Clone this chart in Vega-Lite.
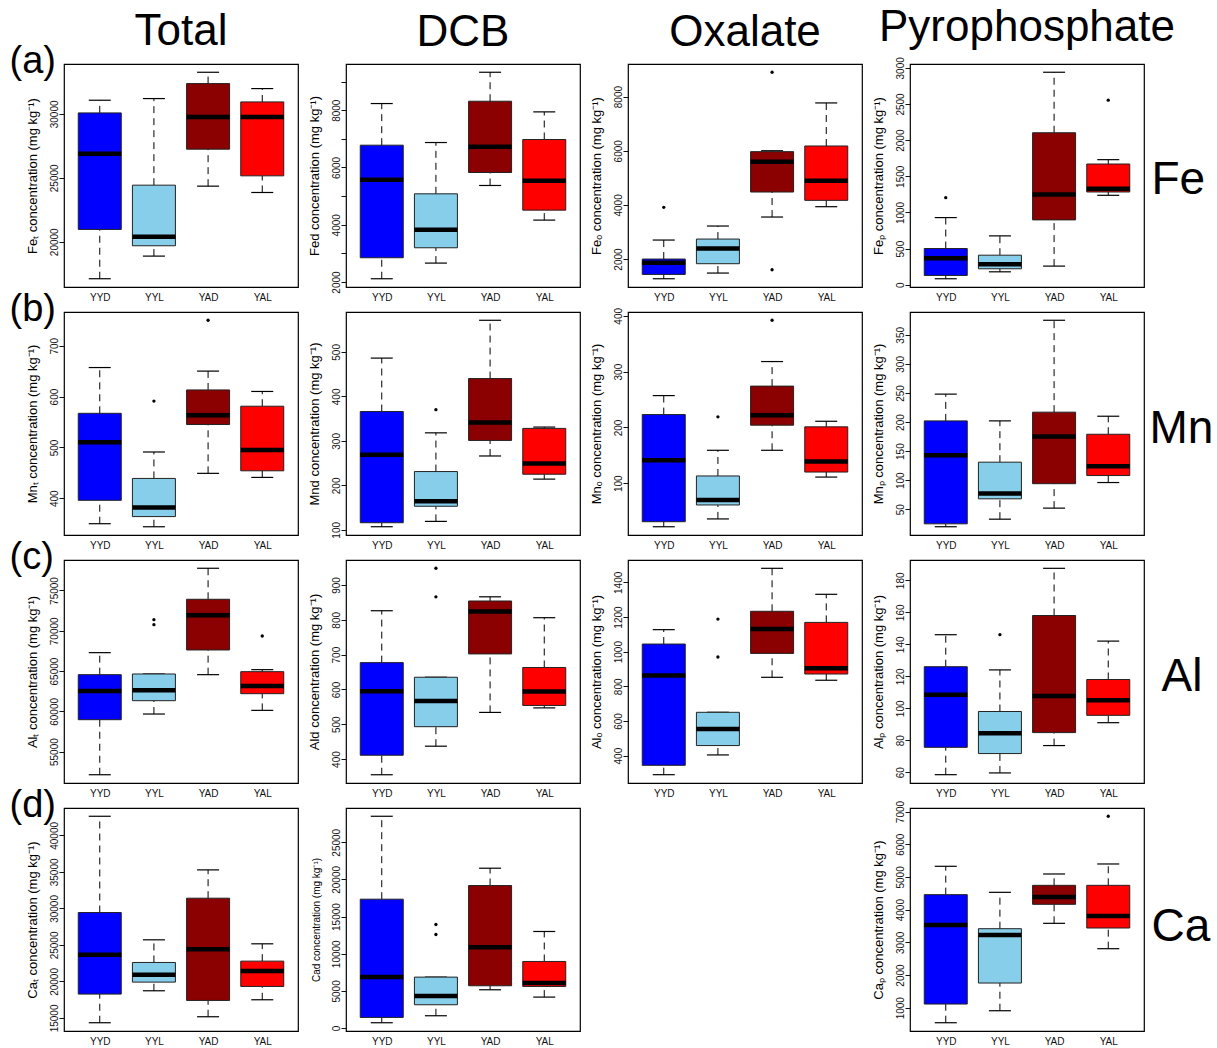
{
"$schema": "https://vega.github.io/schema/vega-lite/v6.json",
"padding": {"left": 8, "top": 5, "right": 5, "bottom": 3},
"background": "white",
"datasets": {
"box": [
{"p":"Fe_t","g":"YYD","lo":17110,"q1":20964,"med":26875,"q3":30078,"hi":31068},
{"p":"Fe_t","g":"YYL","lo":18880,"q1":19688,"med":20391,"q3":24427,"hi":31198},
{"p":"Fe_t","g":"YAD","lo":24349,"q1":27240,"med":29766,"q3":32370,"hi":33255},
{"p":"Fe_t","g":"YAL","lo":23854,"q1":25156,"med":29766,"q3":30937,"hi":31979},
{"p":"Fe_d","g":"YYD","lo":2115,"q1":2848,"med":5569,"q3":6779,"hi":8233},
{"p":"Fe_d","g":"YYL","lo":2662,"q1":3197,"med":3825,"q3":5081,"hi":6872},
{"p":"Fe_d","g":"YAD","lo":5372,"q1":5825,"med":6721,"q3":8314,"hi":9326},
{"p":"Fe_d","g":"YAL","lo":4163,"q1":4511,"med":5535,"q3":6977,"hi":7942},
{"p":"Fe_o","g":"YYD","lo":1273,"q1":1433,"med":1864,"q3":2000,"hi":2702},
{"p":"Fe_o","g":"YYL","lo":1483,"q1":1828,"med":2394,"q3":2739,"hi":3220},
{"p":"Fe_o","g":"YAD","lo":3552,"q1":4476,"med":5597,"q3":5967,"hi":6000},
{"p":"Fe_o","g":"YAL","lo":3934,"q1":4168,"med":4895,"q3":6176,"hi":7766},
{"p":"Fe_p","g":"YYD","lo":83,"q1":129,"med":368,"q3":501,"hi":929},
{"p":"Fe_p","g":"YYL","lo":179,"q1":221,"med":285,"q3":409,"hi":676},
{"p":"Fe_p","g":"YAD","lo":258,"q1":897,"med":1247,"q3":2102,"hi":2939},
{"p":"Fe_p","g":"YAL","lo":1237,"q1":1283,"med":1329,"q3":1670,"hi":1730},
{"p":"Mn_t","g":"YYD","lo":350,"q1":396,"med":510,"q3":567,"hi":657},
{"p":"Mn_t","g":"YYL","lo":344,"q1":364,"med":382,"q3":439,"hi":491},
{"p":"Mn_t","g":"YAD","lo":449,"q1":545,"med":563,"q3":613,"hi":650},
{"p":"Mn_t","g":"YAL","lo":441,"q1":454,"med":495,"q3":581,"hi":610},
{"p":"Mn_d","g":"YYD","lo":107,"q1":116,"med":269,"q3":366,"hi":486},
{"p":"Mn_d","g":"YYL","lo":119,"q1":153,"med":164,"q3":231,"hi":318},
{"p":"Mn_d","g":"YAD","lo":266,"q1":301,"med":341,"q3":440,"hi":571},
{"p":"Mn_d","g":"YAL","lo":214,"q1":225,"med":249,"q3":328,"hi":331},
{"p":"Mn_o","g":"YYD","lo":22,"q1":31,"med":141,"q3":223,"hi":257},
{"p":"Mn_o","g":"YYL","lo":36,"q1":61,"med":70,"q3":113,"hi":159},
{"p":"Mn_o","g":"YAD","lo":159,"q1":204,"med":222,"q3":274,"hi":318},
{"p":"Mn_o","g":"YAL","lo":111,"q1":120,"med":139,"q3":201,"hi":211},
{"p":"Mn_p","g":"YYD","lo":20,"q1":25,"med":143,"q3":202,"hi":248},
{"p":"Mn_p","g":"YYL","lo":33,"q1":68,"med":77,"q3":131,"hi":202},
{"p":"Mn_p","g":"YAD","lo":52,"q1":94,"med":175,"q3":217,"hi":375},
{"p":"Mn_p","g":"YAL","lo":96,"q1":108,"med":124,"q3":179,"hi":210},
{"p":"Al_t","g":"YYD","lo":52134,"q1":58965,"med":62525,"q3":64554,"hi":67286},
{"p":"Al_t","g":"YYL","lo":59669,"q1":61325,"med":62608,"q3":64637,"hi":64637},
{"p":"Al_t","g":"YAD","lo":64554,"q1":67618,"med":71923,"q3":73910,"hi":77760},
{"p":"Al_t","g":"YAL","lo":60124,"q1":62194,"med":63146,"q3":64927,"hi":65175},
{"p":"Al_d","g":"YYD","lo":355,"q1":411,"med":595,"q3":677,"hi":826},
{"p":"Al_d","g":"YYL","lo":437,"q1":493,"med":567,"q3":635,"hi":635},
{"p":"Al_d","g":"YAD","lo":534,"q1":702,"med":824,"q3":854,"hi":866},
{"p":"Al_d","g":"YAL","lo":547,"q1":554,"med":594,"q3":663,"hi":806},
{"p":"Al_o","g":"YYD","lo":290,"q1":344,"med":863,"q3":1044,"hi":1127},
{"p":"Al_o","g":"YYL","lo":404,"q1":458,"med":554,"q3":650,"hi":650},
{"p":"Al_o","g":"YAD","lo":852,"q1":990,"med":1131,"q3":1233,"hi":1481},
{"p":"Al_o","g":"YAL","lo":835,"q1":871,"med":904,"q3":1169,"hi":1331},
{"p":"Al_p","g":"YYD","lo":58.5,"q1":75.6,"med":108.5,"q3":126,"hi":146},
{"p":"Al_p","g":"YYL","lo":59.6,"q1":71.7,"med":84.4,"q3":98,"hi":124},
{"p":"Al_p","g":"YAD","lo":76.7,"q1":84.8,"med":107.7,"q3":158,"hi":187.5},
{"p":"Al_p","g":"YAL","lo":91,"q1":95.6,"med":105,"q3":118,"hi":142},
{"p":"Ca_t","g":"YYD","lo":14346,"q1":18267,"med":23648,"q3":29439,"hi":42618},
{"p":"Ca_t","g":"YYL","lo":18723,"q1":19909,"med":20912,"q3":22600,"hi":25700},
{"p":"Ca_t","g":"YAD","lo":15166,"q1":17401,"med":24423,"q3":31400,"hi":35276},
{"p":"Ca_t","g":"YAL","lo":17492,"q1":19316,"med":21414,"q3":22782,"hi":25153},
{"p":"Ca_d","g":"YYD","lo":717,"q1":1434,"med":6854,"q3":17338,"hi":28493},
{"p":"Ca_d","g":"YYL","lo":1658,"q1":3136,"med":4301,"q3":6854,"hi":6854},
{"p":"Ca_d","g":"YAD","lo":5152,"q1":5690,"med":10886,"q3":19174,"hi":21504},
{"p":"Ca_d","g":"YAL","lo":4166,"q1":5600,"med":6048,"q3":8960,"hi":12992},
{"p":"Ca_p","g":"YYD","lo":541,"q1":1112,"med":3530,"q3":4458,"hi":5325},
{"p":"Ca_p","g":"YYL","lo":908,"q1":1755,"med":3224,"q3":3417,"hi":4529},
{"p":"Ca_p","g":"YAD","lo":3581,"q1":4162,"med":4386,"q3":4743,"hi":5090},
{"p":"Ca_p","g":"YAL","lo":2805,"q1":3438,"med":3805,"q3":4743,"hi":5396}
],
"out": [
{"p":"Fe_o","g":"YYD","out":3910},
{"p":"Fe_o","g":"YAD","out":8899},
{"p":"Fe_o","g":"YAD","out":1606},
{"p":"Fe_p","g":"YYD","out":1205},
{"p":"Fe_p","g":"YAL","out":2553},
{"p":"Mn_t","g":"YYL","out":591},
{"p":"Mn_t","g":"YAD","out":750},
{"p":"Mn_d","g":"YYL","out":370},
{"p":"Mn_o","g":"YYL","out":219},
{"p":"Mn_o","g":"YAD","out":392},
{"p":"Al_t","g":"YYL","out":71385},
{"p":"Al_t","g":"YYL","out":70764},
{"p":"Al_t","g":"YAL","out":69356},
{"p":"Al_d","g":"YYL","out":948},
{"p":"Al_d","g":"YYL","out":866},
{"p":"Al_o","g":"YYL","out":1188},
{"p":"Al_o","g":"YYL","out":969},
{"p":"Al_p","g":"YYL","out":146},
{"p":"Ca_d","g":"YYL","out":13933},
{"p":"Ca_d","g":"YYL","out":12589},
{"p":"Ca_p","g":"YAL","out":6855}
]
},
"data": {"name": "box"},
"config": {
"font": "Liberation Sans",
"view": {"stroke": "#000", "strokeWidth": 1.2},
"axis": {"grid": false, "labelColor": "#111", "titleColor": "#000", "titleFontWeight": "normal", "labelFontSize": 10, "titleFontSize": 13, "tickColor": "#111", "labelFont": "Liberation Sans", "titleFont": "Liberation Sans"},
"axisY": {"labelAngle": -90, "labelAlign": "center", "labelBaseline": "alphabetic", "labelPadding": 2, "tickSize": 5, "domain": false, "labelOverlap": false, "titleAlign": "center", "titleBaseline": "middle"},
"axisX": {"labelAngle": 0, "ticks": false, "tickSize": 0, "domain": false, "labelPadding": 5, "labelFontSize": 10},
"title": {"fontSize": 44, "fontWeight": "normal", "font": "Liberation Sans", "color": "#000", "frame": "group", "anchor": "middle"}
},
"columns": 4,
"spacing": {"row": 25, "column": 48},
"bounds": "flush",
"concat": [
{"width":234,"height":223,"title":{"text":"Total","offset":-12},"transform":[{"filter":"datum.p==='Fe_t'"}],
"encoding":{"x":{"field":"g","type":"nominal","title":null,"scale":{"type":"point","domain":["YYD","YYL","YAD","YAL"],"padding":0.66}}},
"layer":[
{"mark":{"type":"rule","strokeDash":[7,5],"color":"black"},"encoding":{"y":{"field":"q3","type":"quantitative","scale":{"domain":[16464,33901],"nice":false,"zero":false},"axis":{"title":"Feₜ concentration (mg kg⁻¹)","values":[20000,25000,30000],"format":"d","titleAngle":-90,"titleX":-32,"titleY":111.5}},"y2":{"field":"hi"}}},
{"mark":{"type":"rule","strokeDash":[7,5],"color":"black"},"encoding":{"y":{"field":"lo","type":"quantitative","axis":null},"y2":{"field":"q1"}}},
{"mark":{"type":"tick","size":22,"thickness":1.2,"color":"black","opacity":1},"encoding":{"y":{"field":"hi","type":"quantitative","axis":null}}},
{"mark":{"type":"tick","size":22,"thickness":1.2,"color":"black","opacity":1},"encoding":{"y":{"field":"lo","type":"quantitative","axis":null}}},
{"mark":{"type":"bar","size":43,"stroke":"#222","strokeWidth":1},"encoding":{"y":{"field":"q1","type":"quantitative","axis":null},"y2":{"field":"q3"},"fill":{"field":"g","type":"nominal","scale":{"domain":["YYD","YYL","YAD","YAL"],"range":["#0000FF","#87CEEB","#8B0000","#FF0000"]},"legend":null}}},
{"mark":{"type":"tick","size":43,"thickness":4.5,"color":"black","opacity":1},"encoding":{"y":{"field":"med","type":"quantitative","axis":null}}},
{"mark":{"type":"tick","opacity":0},"encoding":{"y":{"field":"med","type":"quantitative","axis":{"orient":"left","title":"(a)","labels":false,"ticks":false,"domain":false,"titleAngle":0.01,"titleAlign":"left","titleBaseline":"middle","titleX":-55,"titleY":-3,"titleFontSize":38}}}}
],
"resolve":{"axis":{"y":"independent"}}},

{"width":234,"height":223,"title":{"text":"DCB","offset":9},"transform":[{"filter":"datum.p==='Fe_d'"}],
"encoding":{"x":{"field":"g","type":"nominal","title":null,"scale":{"type":"point","domain":["YYD","YYL","YAD","YAL"],"padding":0.66}}},
"layer":[
{"mark":{"type":"rule","strokeDash":[7,5],"color":"black"},"encoding":{"y":{"field":"q3","type":"quantitative","scale":{"domain":[1827,9614],"nice":false,"zero":false},"axis":{"title":"Fed concentration (mg kg⁻¹)","values":[2000,3000,4000,5000,6000,7000,8000,9000],"labelExpr":"datum.value % 2000 === 0 ? datum.label : ''","format":"d","titleAngle":-90,"titleX":-32,"titleY":111.5}},"y2":{"field":"hi"}}},
{"mark":{"type":"rule","strokeDash":[7,5],"color":"black"},"encoding":{"y":{"field":"lo","type":"quantitative","axis":null},"y2":{"field":"q1"}}},
{"mark":{"type":"tick","size":22,"thickness":1.2,"color":"black","opacity":1},"encoding":{"y":{"field":"hi","type":"quantitative","axis":null}}},
{"mark":{"type":"tick","size":22,"thickness":1.2,"color":"black","opacity":1},"encoding":{"y":{"field":"lo","type":"quantitative","axis":null}}},
{"mark":{"type":"bar","size":43,"stroke":"#222","strokeWidth":1},"encoding":{"y":{"field":"q1","type":"quantitative","axis":null},"y2":{"field":"q3"},"fill":{"field":"g","type":"nominal","scale":{"domain":["YYD","YYL","YAD","YAL"],"range":["#0000FF","#87CEEB","#8B0000","#FF0000"]},"legend":null}}},
{"mark":{"type":"tick","size":43,"thickness":4.5,"color":"black","opacity":1},"encoding":{"y":{"field":"med","type":"quantitative","axis":null}}}
],
"resolve":{"axis":{"y":"independent"}}},

{"width":234,"height":223,"title":{"text":"Oxalate","offset":9},"transform":[{"filter":"datum.p==='Fe_o'"}],
"encoding":{"x":{"field":"g","type":"nominal","title":null,"scale":{"type":"point","domain":["YYD","YYL","YAD","YAL"],"padding":0.66}}},
"layer":[
{"mark":{"type":"rule","strokeDash":[7,5],"color":"black"},"encoding":{"y":{"field":"q3","type":"quantitative","scale":{"domain":[968,9204],"nice":false,"zero":false},"axis":{"title":"Feₒ concentration (mg kg⁻¹)","values":[2000,4000,6000,8000],"format":"d","titleAngle":-90,"titleX":-32,"titleY":111.5}},"y2":{"field":"hi"}}},
{"mark":{"type":"rule","strokeDash":[7,5],"color":"black"},"encoding":{"y":{"field":"lo","type":"quantitative","axis":null},"y2":{"field":"q1"}}},
{"mark":{"type":"tick","size":22,"thickness":1.2,"color":"black","opacity":1},"encoding":{"y":{"field":"hi","type":"quantitative","axis":null}}},
{"mark":{"type":"tick","size":22,"thickness":1.2,"color":"black","opacity":1},"encoding":{"y":{"field":"lo","type":"quantitative","axis":null}}},
{"mark":{"type":"bar","size":43,"stroke":"#222","strokeWidth":1},"encoding":{"y":{"field":"q1","type":"quantitative","axis":null},"y2":{"field":"q3"},"fill":{"field":"g","type":"nominal","scale":{"domain":["YYD","YYL","YAD","YAL"],"range":["#0000FF","#87CEEB","#8B0000","#FF0000"]},"legend":null}}},
{"mark":{"type":"tick","size":43,"thickness":4.5,"color":"black","opacity":1},"encoding":{"y":{"field":"med","type":"quantitative","axis":null}}},
{"data":{"name":"out"},"transform":[{"filter":"datum.p==='Fe_o'"}],"mark":{"type":"circle","size":11,"color":"black","opacity":1},"encoding":{"y":{"field":"out","type":"quantitative","axis":null}}}
],
"resolve":{"axis":{"y":"independent"}}},

{"width":234,"height":223,"title":{"text":"Pyrophosphate","offset":7},"transform":[{"filter":"datum.p==='Fe_p'"}],
"encoding":{"x":{"field":"g","type":"nominal","title":null,"scale":{"type":"point","domain":["YYD","YYL","YAD","YAL"],"padding":0.66}}},
"layer":[
{"mark":{"type":"rule","strokeDash":[7,5],"color":"black"},"encoding":{"y":{"field":"q3","type":"quantitative","scale":{"domain":[-31,3053],"nice":false,"zero":false},"axis":{"title":"Feₚ concentration (mg kg⁻¹)","values":[0,500,1000,1500,2000,2500,3000],"format":"d","titleAngle":-90,"titleX":-32,"titleY":111.5}},"y2":{"field":"hi"}}},
{"mark":{"type":"rule","strokeDash":[7,5],"color":"black"},"encoding":{"y":{"field":"lo","type":"quantitative","axis":null},"y2":{"field":"q1"}}},
{"mark":{"type":"tick","size":22,"thickness":1.2,"color":"black","opacity":1},"encoding":{"y":{"field":"hi","type":"quantitative","axis":null}}},
{"mark":{"type":"tick","size":22,"thickness":1.2,"color":"black","opacity":1},"encoding":{"y":{"field":"lo","type":"quantitative","axis":null}}},
{"mark":{"type":"bar","size":43,"stroke":"#222","strokeWidth":1},"encoding":{"y":{"field":"q1","type":"quantitative","axis":null},"y2":{"field":"q3"},"fill":{"field":"g","type":"nominal","scale":{"domain":["YYD","YYL","YAD","YAL"],"range":["#0000FF","#87CEEB","#8B0000","#FF0000"]},"legend":null}}},
{"mark":{"type":"tick","size":43,"thickness":4.5,"color":"black","opacity":1},"encoding":{"y":{"field":"med","type":"quantitative","axis":null}}},
{"data":{"name":"out"},"transform":[{"filter":"datum.p==='Fe_p'"}],"mark":{"type":"circle","size":11,"color":"black","opacity":1},"encoding":{"y":{"field":"out","type":"quantitative","axis":null}}},
{"mark":{"type":"tick","opacity":0},"encoding":{"y":{"field":"med","type":"quantitative","axis":{"orient":"right","title":"Fe","labels":false,"ticks":false,"domain":false,"titleAngle":0.01,"titleAlign":"left","titleBaseline":"middle","titleX":7,"titleY":115,"titleFontSize":46}}}}
],
"resolve":{"axis":{"y":"independent"}}},

{"width":234,"height":223,"transform":[{"filter":"datum.p==='Mn_t'"}],
"encoding":{"x":{"field":"g","type":"nominal","title":null,"scale":{"type":"point","domain":["YYD","YYL","YAD","YAL"],"padding":0.66}}},
"layer":[
{"mark":{"type":"rule","strokeDash":[7,5],"color":"black"},"encoding":{"y":{"field":"q3","type":"quantitative","scale":{"domain":[327.8,766.2],"nice":false,"zero":false},"axis":{"title":"Mnₜ concentration (mg kg⁻¹)","values":[400,500,600,700],"format":"d","titleAngle":-90,"titleX":-32,"titleY":111.5}},"y2":{"field":"hi"}}},
{"mark":{"type":"rule","strokeDash":[7,5],"color":"black"},"encoding":{"y":{"field":"lo","type":"quantitative","axis":null},"y2":{"field":"q1"}}},
{"mark":{"type":"tick","size":22,"thickness":1.2,"color":"black","opacity":1},"encoding":{"y":{"field":"hi","type":"quantitative","axis":null}}},
{"mark":{"type":"tick","size":22,"thickness":1.2,"color":"black","opacity":1},"encoding":{"y":{"field":"lo","type":"quantitative","axis":null}}},
{"mark":{"type":"bar","size":43,"stroke":"#222","strokeWidth":1},"encoding":{"y":{"field":"q1","type":"quantitative","axis":null},"y2":{"field":"q3"},"fill":{"field":"g","type":"nominal","scale":{"domain":["YYD","YYL","YAD","YAL"],"range":["#0000FF","#87CEEB","#8B0000","#FF0000"]},"legend":null}}},
{"mark":{"type":"tick","size":43,"thickness":4.5,"color":"black","opacity":1},"encoding":{"y":{"field":"med","type":"quantitative","axis":null}}},
{"data":{"name":"out"},"transform":[{"filter":"datum.p==='Mn_t'"}],"mark":{"type":"circle","size":11,"color":"black","opacity":1},"encoding":{"y":{"field":"out","type":"quantitative","axis":null}}},
{"mark":{"type":"tick","opacity":0},"encoding":{"y":{"field":"med","type":"quantitative","axis":{"orient":"left","title":"(b)","labels":false,"ticks":false,"domain":false,"titleAngle":0.01,"titleAlign":"left","titleBaseline":"middle","titleX":-55,"titleY":-3,"titleFontSize":38}}}}
],
"resolve":{"axis":{"y":"independent"}}},

{"width":234,"height":223,"transform":[{"filter":"datum.p==='Mn_d'"}],
"encoding":{"x":{"field":"g","type":"nominal","title":null,"scale":{"type":"point","domain":["YYD","YYL","YAD","YAL"],"padding":0.66}}},
"layer":[
{"mark":{"type":"rule","strokeDash":[7,5],"color":"black"},"encoding":{"y":{"field":"q3","type":"quantitative","scale":{"domain":[88.4,589.6],"nice":false,"zero":false},"axis":{"title":"Mnd concentration (mg kg⁻¹)","values":[100,200,300,400,500],"format":"d","titleAngle":-90,"titleX":-32,"titleY":111.5}},"y2":{"field":"hi"}}},
{"mark":{"type":"rule","strokeDash":[7,5],"color":"black"},"encoding":{"y":{"field":"lo","type":"quantitative","axis":null},"y2":{"field":"q1"}}},
{"mark":{"type":"tick","size":22,"thickness":1.2,"color":"black","opacity":1},"encoding":{"y":{"field":"hi","type":"quantitative","axis":null}}},
{"mark":{"type":"tick","size":22,"thickness":1.2,"color":"black","opacity":1},"encoding":{"y":{"field":"lo","type":"quantitative","axis":null}}},
{"mark":{"type":"bar","size":43,"stroke":"#222","strokeWidth":1},"encoding":{"y":{"field":"q1","type":"quantitative","axis":null},"y2":{"field":"q3"},"fill":{"field":"g","type":"nominal","scale":{"domain":["YYD","YYL","YAD","YAL"],"range":["#0000FF","#87CEEB","#8B0000","#FF0000"]},"legend":null}}},
{"mark":{"type":"tick","size":43,"thickness":4.5,"color":"black","opacity":1},"encoding":{"y":{"field":"med","type":"quantitative","axis":null}}},
{"data":{"name":"out"},"transform":[{"filter":"datum.p==='Mn_d'"}],"mark":{"type":"circle","size":11,"color":"black","opacity":1},"encoding":{"y":{"field":"out","type":"quantitative","axis":null}}}
],
"resolve":{"axis":{"y":"independent"}}},

{"width":234,"height":223,"transform":[{"filter":"datum.p==='Mn_o'"}],
"encoding":{"x":{"field":"g","type":"nominal","title":null,"scale":{"type":"point","domain":["YYD","YYL","YAD","YAL"],"padding":0.66}}},
"layer":[
{"mark":{"type":"rule","strokeDash":[7,5],"color":"black"},"encoding":{"y":{"field":"q3","type":"quantitative","scale":{"domain":[7.2,406.8],"nice":false,"zero":false},"axis":{"title":"Mnₒ concentration (mg kg⁻¹)","values":[100,200,300,400],"format":"d","titleAngle":-90,"titleX":-32,"titleY":111.5}},"y2":{"field":"hi"}}},
{"mark":{"type":"rule","strokeDash":[7,5],"color":"black"},"encoding":{"y":{"field":"lo","type":"quantitative","axis":null},"y2":{"field":"q1"}}},
{"mark":{"type":"tick","size":22,"thickness":1.2,"color":"black","opacity":1},"encoding":{"y":{"field":"hi","type":"quantitative","axis":null}}},
{"mark":{"type":"tick","size":22,"thickness":1.2,"color":"black","opacity":1},"encoding":{"y":{"field":"lo","type":"quantitative","axis":null}}},
{"mark":{"type":"bar","size":43,"stroke":"#222","strokeWidth":1},"encoding":{"y":{"field":"q1","type":"quantitative","axis":null},"y2":{"field":"q3"},"fill":{"field":"g","type":"nominal","scale":{"domain":["YYD","YYL","YAD","YAL"],"range":["#0000FF","#87CEEB","#8B0000","#FF0000"]},"legend":null}}},
{"mark":{"type":"tick","size":43,"thickness":4.5,"color":"black","opacity":1},"encoding":{"y":{"field":"med","type":"quantitative","axis":null}}},
{"data":{"name":"out"},"transform":[{"filter":"datum.p==='Mn_o'"}],"mark":{"type":"circle","size":11,"color":"black","opacity":1},"encoding":{"y":{"field":"out","type":"quantitative","axis":null}}}
],
"resolve":{"axis":{"y":"independent"}}},

{"width":234,"height":223,"transform":[{"filter":"datum.p==='Mn_p'"}],
"encoding":{"x":{"field":"g","type":"nominal","title":null,"scale":{"type":"point","domain":["YYD","YYL","YAD","YAL"],"padding":0.66}}},
"layer":[
{"mark":{"type":"rule","strokeDash":[7,5],"color":"black"},"encoding":{"y":{"field":"q3","type":"quantitative","scale":{"domain":[5.8,389.2],"nice":false,"zero":false},"axis":{"title":"Mnₚ concentration (mg kg⁻¹)","values":[50,100,150,200,250,300,350],"format":"d","titleAngle":-90,"titleX":-32,"titleY":111.5}},"y2":{"field":"hi"}}},
{"mark":{"type":"rule","strokeDash":[7,5],"color":"black"},"encoding":{"y":{"field":"lo","type":"quantitative","axis":null},"y2":{"field":"q1"}}},
{"mark":{"type":"tick","size":22,"thickness":1.2,"color":"black","opacity":1},"encoding":{"y":{"field":"hi","type":"quantitative","axis":null}}},
{"mark":{"type":"tick","size":22,"thickness":1.2,"color":"black","opacity":1},"encoding":{"y":{"field":"lo","type":"quantitative","axis":null}}},
{"mark":{"type":"bar","size":43,"stroke":"#222","strokeWidth":1},"encoding":{"y":{"field":"q1","type":"quantitative","axis":null},"y2":{"field":"q3"},"fill":{"field":"g","type":"nominal","scale":{"domain":["YYD","YYL","YAD","YAL"],"range":["#0000FF","#87CEEB","#8B0000","#FF0000"]},"legend":null}}},
{"mark":{"type":"tick","size":43,"thickness":4.5,"color":"black","opacity":1},"encoding":{"y":{"field":"med","type":"quantitative","axis":null}}},
{"mark":{"type":"tick","opacity":0},"encoding":{"y":{"field":"med","type":"quantitative","axis":{"orient":"right","title":"Mn","labels":false,"ticks":false,"domain":false,"titleAngle":0.01,"titleAlign":"left","titleBaseline":"middle","titleX":5,"titleY":116,"titleFontSize":46}}}}
],
"resolve":{"axis":{"y":"independent"}}},

{"width":234,"height":223,"transform":[{"filter":"datum.p==='Al_t'"}],
"encoding":{"x":{"field":"g","type":"nominal","title":null,"scale":{"type":"point","domain":["YYD","YYL","YAD","YAL"],"padding":0.66}}},
"layer":[
{"mark":{"type":"rule","strokeDash":[7,5],"color":"black"},"encoding":{"y":{"field":"q3","type":"quantitative","scale":{"domain":[51109,78785],"nice":false,"zero":false},"axis":{"title":"Alₜ concentration (mg kg⁻¹)","values":[55000,60000,65000,70000,75000],"format":"d","titleAngle":-90,"titleX":-32,"titleY":111.5}},"y2":{"field":"hi"}}},
{"mark":{"type":"rule","strokeDash":[7,5],"color":"black"},"encoding":{"y":{"field":"lo","type":"quantitative","axis":null},"y2":{"field":"q1"}}},
{"mark":{"type":"tick","size":22,"thickness":1.2,"color":"black","opacity":1},"encoding":{"y":{"field":"hi","type":"quantitative","axis":null}}},
{"mark":{"type":"tick","size":22,"thickness":1.2,"color":"black","opacity":1},"encoding":{"y":{"field":"lo","type":"quantitative","axis":null}}},
{"mark":{"type":"bar","size":43,"stroke":"#222","strokeWidth":1},"encoding":{"y":{"field":"q1","type":"quantitative","axis":null},"y2":{"field":"q3"},"fill":{"field":"g","type":"nominal","scale":{"domain":["YYD","YYL","YAD","YAL"],"range":["#0000FF","#87CEEB","#8B0000","#FF0000"]},"legend":null}}},
{"mark":{"type":"tick","size":43,"thickness":4.5,"color":"black","opacity":1},"encoding":{"y":{"field":"med","type":"quantitative","axis":null}}},
{"data":{"name":"out"},"transform":[{"filter":"datum.p==='Al_t'"}],"mark":{"type":"circle","size":11,"color":"black","opacity":1},"encoding":{"y":{"field":"out","type":"quantitative","axis":null}}},
{"mark":{"type":"tick","opacity":0},"encoding":{"y":{"field":"med","type":"quantitative","axis":{"orient":"left","title":"(c)","labels":false,"ticks":false,"domain":false,"titleAngle":0.01,"titleAlign":"left","titleBaseline":"middle","titleX":-55,"titleY":-3,"titleFontSize":38}}}}
],
"resolve":{"axis":{"y":"independent"}}},

{"width":234,"height":223,"transform":[{"filter":"datum.p==='Al_d'"}],
"encoding":{"x":{"field":"g","type":"nominal","title":null,"scale":{"type":"point","domain":["YYD","YYL","YAD","YAL"],"padding":0.66}}},
"layer":[
{"mark":{"type":"rule","strokeDash":[7,5],"color":"black"},"encoding":{"y":{"field":"q3","type":"quantitative","scale":{"domain":[331.3,971.7],"nice":false,"zero":false},"axis":{"title":"Ald concentration (mg kg⁻¹)","values":[400,500,600,700,800,900],"format":"d","titleAngle":-90,"titleX":-32,"titleY":111.5}},"y2":{"field":"hi"}}},
{"mark":{"type":"rule","strokeDash":[7,5],"color":"black"},"encoding":{"y":{"field":"lo","type":"quantitative","axis":null},"y2":{"field":"q1"}}},
{"mark":{"type":"tick","size":22,"thickness":1.2,"color":"black","opacity":1},"encoding":{"y":{"field":"hi","type":"quantitative","axis":null}}},
{"mark":{"type":"tick","size":22,"thickness":1.2,"color":"black","opacity":1},"encoding":{"y":{"field":"lo","type":"quantitative","axis":null}}},
{"mark":{"type":"bar","size":43,"stroke":"#222","strokeWidth":1},"encoding":{"y":{"field":"q1","type":"quantitative","axis":null},"y2":{"field":"q3"},"fill":{"field":"g","type":"nominal","scale":{"domain":["YYD","YYL","YAD","YAL"],"range":["#0000FF","#87CEEB","#8B0000","#FF0000"]},"legend":null}}},
{"mark":{"type":"tick","size":43,"thickness":4.5,"color":"black","opacity":1},"encoding":{"y":{"field":"med","type":"quantitative","axis":null}}},
{"data":{"name":"out"},"transform":[{"filter":"datum.p==='Al_d'"}],"mark":{"type":"circle","size":11,"color":"black","opacity":1},"encoding":{"y":{"field":"out","type":"quantitative","axis":null}}}
],
"resolve":{"axis":{"y":"independent"}}},

{"width":234,"height":223,"transform":[{"filter":"datum.p==='Al_o'"}],
"encoding":{"x":{"field":"g","type":"nominal","title":null,"scale":{"type":"point","domain":["YYD","YYL","YAD","YAL"],"padding":0.66}}},
"layer":[
{"mark":{"type":"rule","strokeDash":[7,5],"color":"black"},"encoding":{"y":{"field":"q3","type":"quantitative","scale":{"domain":[242,1529],"nice":false,"zero":false},"axis":{"title":"Alₒ concentration (mg kg⁻¹)","values":[400,600,800,1000,1200,1400],"format":"d","titleAngle":-90,"titleX":-32,"titleY":111.5}},"y2":{"field":"hi"}}},
{"mark":{"type":"rule","strokeDash":[7,5],"color":"black"},"encoding":{"y":{"field":"lo","type":"quantitative","axis":null},"y2":{"field":"q1"}}},
{"mark":{"type":"tick","size":22,"thickness":1.2,"color":"black","opacity":1},"encoding":{"y":{"field":"hi","type":"quantitative","axis":null}}},
{"mark":{"type":"tick","size":22,"thickness":1.2,"color":"black","opacity":1},"encoding":{"y":{"field":"lo","type":"quantitative","axis":null}}},
{"mark":{"type":"bar","size":43,"stroke":"#222","strokeWidth":1},"encoding":{"y":{"field":"q1","type":"quantitative","axis":null},"y2":{"field":"q3"},"fill":{"field":"g","type":"nominal","scale":{"domain":["YYD","YYL","YAD","YAL"],"range":["#0000FF","#87CEEB","#8B0000","#FF0000"]},"legend":null}}},
{"mark":{"type":"tick","size":43,"thickness":4.5,"color":"black","opacity":1},"encoding":{"y":{"field":"med","type":"quantitative","axis":null}}},
{"data":{"name":"out"},"transform":[{"filter":"datum.p==='Al_o'"}],"mark":{"type":"circle","size":11,"color":"black","opacity":1},"encoding":{"y":{"field":"out","type":"quantitative","axis":null}}}
],
"resolve":{"axis":{"y":"independent"}}},

{"width":234,"height":223,"transform":[{"filter":"datum.p==='Al_p'"}],
"encoding":{"x":{"field":"g","type":"nominal","title":null,"scale":{"type":"point","domain":["YYD","YYL","YAD","YAL"],"padding":0.66}}},
"layer":[
{"mark":{"type":"rule","strokeDash":[7,5],"color":"black"},"encoding":{"y":{"field":"q3","type":"quantitative","scale":{"domain":[53.3,192.7],"nice":false,"zero":false},"axis":{"title":"Alₚ concentration (mg kg⁻¹)","values":[60,80,100,120,140,160,180],"format":"d","titleAngle":-90,"titleX":-32,"titleY":111.5}},"y2":{"field":"hi"}}},
{"mark":{"type":"rule","strokeDash":[7,5],"color":"black"},"encoding":{"y":{"field":"lo","type":"quantitative","axis":null},"y2":{"field":"q1"}}},
{"mark":{"type":"tick","size":22,"thickness":1.2,"color":"black","opacity":1},"encoding":{"y":{"field":"hi","type":"quantitative","axis":null}}},
{"mark":{"type":"tick","size":22,"thickness":1.2,"color":"black","opacity":1},"encoding":{"y":{"field":"lo","type":"quantitative","axis":null}}},
{"mark":{"type":"bar","size":43,"stroke":"#222","strokeWidth":1},"encoding":{"y":{"field":"q1","type":"quantitative","axis":null},"y2":{"field":"q3"},"fill":{"field":"g","type":"nominal","scale":{"domain":["YYD","YYL","YAD","YAL"],"range":["#0000FF","#87CEEB","#8B0000","#FF0000"]},"legend":null}}},
{"mark":{"type":"tick","size":43,"thickness":4.5,"color":"black","opacity":1},"encoding":{"y":{"field":"med","type":"quantitative","axis":null}}},
{"data":{"name":"out"},"transform":[{"filter":"datum.p==='Al_p'"}],"mark":{"type":"circle","size":11,"color":"black","opacity":1},"encoding":{"y":{"field":"out","type":"quantitative","axis":null}}},
{"mark":{"type":"tick","opacity":0},"encoding":{"y":{"field":"med","type":"quantitative","axis":{"orient":"right","title":"Al","labels":false,"ticks":false,"domain":false,"titleAngle":0.01,"titleAlign":"left","titleBaseline":"middle","titleX":17,"titleY":116,"titleFontSize":46}}}}
],
"resolve":{"axis":{"y":"independent"}}},

{"width":234,"height":223,"transform":[{"filter":"datum.p==='Ca_t'"}],
"encoding":{"x":{"field":"g","type":"nominal","title":null,"scale":{"type":"point","domain":["YYD","YYL","YAD","YAL"],"padding":0.66}}},
"layer":[
{"mark":{"type":"rule","strokeDash":[7,5],"color":"black"},"encoding":{"y":{"field":"q3","type":"quantitative","scale":{"domain":[13215,43749],"nice":false,"zero":false},"axis":{"title":"Caₜ concentration (mg kg⁻¹)","values":[15000,20000,25000,30000,35000,40000],"format":"d","titleAngle":-90,"titleX":-32,"titleY":111.5}},"y2":{"field":"hi"}}},
{"mark":{"type":"rule","strokeDash":[7,5],"color":"black"},"encoding":{"y":{"field":"lo","type":"quantitative","axis":null},"y2":{"field":"q1"}}},
{"mark":{"type":"tick","size":22,"thickness":1.2,"color":"black","opacity":1},"encoding":{"y":{"field":"hi","type":"quantitative","axis":null}}},
{"mark":{"type":"tick","size":22,"thickness":1.2,"color":"black","opacity":1},"encoding":{"y":{"field":"lo","type":"quantitative","axis":null}}},
{"mark":{"type":"bar","size":43,"stroke":"#222","strokeWidth":1},"encoding":{"y":{"field":"q1","type":"quantitative","axis":null},"y2":{"field":"q3"},"fill":{"field":"g","type":"nominal","scale":{"domain":["YYD","YYL","YAD","YAL"],"range":["#0000FF","#87CEEB","#8B0000","#FF0000"]},"legend":null}}},
{"mark":{"type":"tick","size":43,"thickness":4.5,"color":"black","opacity":1},"encoding":{"y":{"field":"med","type":"quantitative","axis":null}}},
{"mark":{"type":"tick","opacity":0},"encoding":{"y":{"field":"med","type":"quantitative","axis":{"orient":"left","title":"(d)","labels":false,"ticks":false,"domain":false,"titleAngle":0.01,"titleAlign":"left","titleBaseline":"middle","titleX":-55,"titleY":-3,"titleFontSize":38}}}}
],
"resolve":{"axis":{"y":"independent"}}},

{"width":234,"height":223,"transform":[{"filter":"datum.p==='Ca_d'"}],
"encoding":{"x":{"field":"g","type":"nominal","title":null,"scale":{"type":"point","domain":["YYD","YYL","YAD","YAL"],"padding":0.66}}},
"layer":[
{"mark":{"type":"rule","strokeDash":[7,5],"color":"black"},"encoding":{"y":{"field":"q3","type":"quantitative","scale":{"domain":[-394,29604],"nice":false,"zero":false},"axis":{"title":"Cad concentration (mg kg⁻¹)","titleFontSize":10,"values":[0,5000,10000,15000,20000,25000],"format":"d","titleAngle":-90,"titleX":-30,"titleY":111.5}},"y2":{"field":"hi"}}},
{"mark":{"type":"rule","strokeDash":[7,5],"color":"black"},"encoding":{"y":{"field":"lo","type":"quantitative","axis":null},"y2":{"field":"q1"}}},
{"mark":{"type":"tick","size":22,"thickness":1.2,"color":"black","opacity":1},"encoding":{"y":{"field":"hi","type":"quantitative","axis":null}}},
{"mark":{"type":"tick","size":22,"thickness":1.2,"color":"black","opacity":1},"encoding":{"y":{"field":"lo","type":"quantitative","axis":null}}},
{"mark":{"type":"bar","size":43,"stroke":"#222","strokeWidth":1},"encoding":{"y":{"field":"q1","type":"quantitative","axis":null},"y2":{"field":"q3"},"fill":{"field":"g","type":"nominal","scale":{"domain":["YYD","YYL","YAD","YAL"],"range":["#0000FF","#87CEEB","#8B0000","#FF0000"]},"legend":null}}},
{"mark":{"type":"tick","size":43,"thickness":4.5,"color":"black","opacity":1},"encoding":{"y":{"field":"med","type":"quantitative","axis":null}}},
{"data":{"name":"out"},"transform":[{"filter":"datum.p==='Ca_d'"}],"mark":{"type":"circle","size":11,"color":"black","opacity":1},"encoding":{"y":{"field":"out","type":"quantitative","axis":null}}}
],
"resolve":{"axis":{"y":"independent"}}},

{"width":234,"height":223,"view":{"stroke":null},"data":{"values":[]},"mark":"point"},

{"width":234,"height":223,"transform":[{"filter":"datum.p==='Ca_p'"}],
"encoding":{"x":{"field":"g","type":"nominal","title":null,"scale":{"type":"point","domain":["YYD","YYL","YAD","YAL"],"padding":0.66}}},
"layer":[
{"mark":{"type":"rule","strokeDash":[7,5],"color":"black"},"encoding":{"y":{"field":"q3","type":"quantitative","scale":{"domain":[288,7108],"nice":false,"zero":false},"axis":{"title":"Caₚ concentration (mg kg⁻¹)","values":[1000,2000,3000,4000,5000,6000,7000],"format":"d","titleAngle":-90,"titleX":-32,"titleY":111.5}},"y2":{"field":"hi"}}},
{"mark":{"type":"rule","strokeDash":[7,5],"color":"black"},"encoding":{"y":{"field":"lo","type":"quantitative","axis":null},"y2":{"field":"q1"}}},
{"mark":{"type":"tick","size":22,"thickness":1.2,"color":"black","opacity":1},"encoding":{"y":{"field":"hi","type":"quantitative","axis":null}}},
{"mark":{"type":"tick","size":22,"thickness":1.2,"color":"black","opacity":1},"encoding":{"y":{"field":"lo","type":"quantitative","axis":null}}},
{"mark":{"type":"bar","size":43,"stroke":"#222","strokeWidth":1},"encoding":{"y":{"field":"q1","type":"quantitative","axis":null},"y2":{"field":"q3"},"fill":{"field":"g","type":"nominal","scale":{"domain":["YYD","YYL","YAD","YAL"],"range":["#0000FF","#87CEEB","#8B0000","#FF0000"]},"legend":null}}},
{"mark":{"type":"tick","size":43,"thickness":4.5,"color":"black","opacity":1},"encoding":{"y":{"field":"med","type":"quantitative","axis":null}}},
{"data":{"name":"out"},"transform":[{"filter":"datum.p==='Ca_p'"}],"mark":{"type":"circle","size":11,"color":"black","opacity":1},"encoding":{"y":{"field":"out","type":"quantitative","axis":null}}},
{"mark":{"type":"tick","opacity":0},"encoding":{"y":{"field":"med","type":"quantitative","axis":{"orient":"right","title":"Ca","labels":false,"ticks":false,"domain":false,"titleAngle":0.01,"titleAlign":"left","titleBaseline":"middle","titleX":7,"titleY":118,"titleFontSize":46}}}}
],
"resolve":{"axis":{"y":"independent"}}}
]
}
